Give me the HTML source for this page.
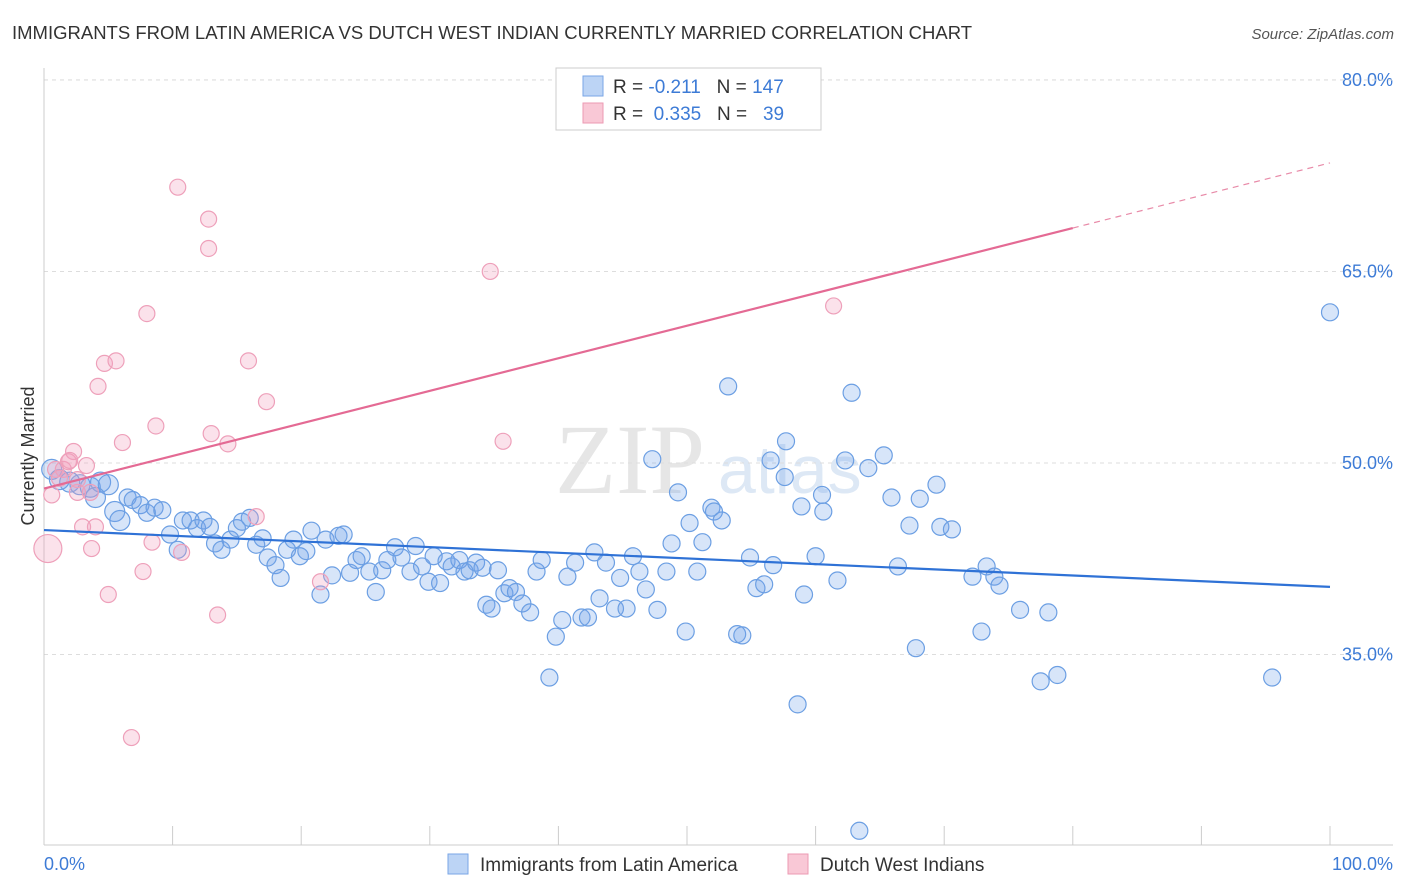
<!DOCTYPE html>
<html><head><meta charset="utf-8"><style>
body{margin:0;background:#fff;font-family:"Liberation Sans",sans-serif;}
svg{display:block}
</style></head><body>
<svg id="chart" width="1406" height="892">
<text x="12" y="39" font-size="18.5" fill="#333">IMMIGRANTS FROM LATIN AMERICA VS DUTCH WEST INDIAN CURRENTLY MARRIED CORRELATION CHART</text>
<text x="1394" y="39" font-size="15" fill="#555" font-style="italic" text-anchor="end">Source: ZipAtlas.com</text>
<text x="555" y="493" font-size="100" fill="#e6e6e6" font-family="Liberation Serif">ZIP</text>
<text x="718" y="493" font-size="68" fill="#dde8f5">atlas</text>
<text transform="translate(34,456) rotate(-90)" font-size="18" fill="#333" text-anchor="middle">Currently Married</text>
<g id="grid"></g><g id="marks"></g>
<g>
<rect x="556" y="68" width="265" height="62" fill="#fff" stroke="#ccc"/>
<rect x="583" y="76" width="20" height="20" fill="#bcd4f5" stroke="#7aa6e6"/>
<rect x="583" y="103" width="20" height="20" fill="#f9c8d6" stroke="#ec9ab3"/>
<text x="613" y="93" font-size="19" fill="#333" xml:space="preserve">R = <tspan fill="#3d7bd6">-0.211</tspan>   N = <tspan fill="#3d7bd6">147</tspan></text>
<text x="613" y="120" font-size="19" fill="#333" xml:space="preserve">R =  <tspan fill="#3d7bd6">0.335</tspan>   N =   <tspan fill="#3d7bd6">39</tspan></text>
</g>
<g>
<rect x="448" y="854" width="20" height="20" fill="#bcd4f5" stroke="#7aa6e6"/>
<text x="480" y="871" font-size="19" fill="#333">Immigrants from Latin America</text>
<rect x="788" y="854" width="20" height="20" fill="#f9c8d6" stroke="#ec9ab3"/>
<text x="820" y="871" font-size="19" fill="#333">Dutch West Indians</text>
</g>
<text x="44" y="870" font-size="18" fill="#3d7bd6">0.0%</text>
<text x="1393" y="870" font-size="18" fill="#3d7bd6" text-anchor="end">100.0%</text>
</svg>
<script>
const yTicks=[80,65,50,35];
const yTickLabels=["80.0%","65.0%","50.0%","35.0%"];
const xTicks=[0,10,20,30,40,50,60,70,80,90,100];
const blueX=[0.6,1.2,2.0,2.8,3.6,4.4,5.0,4.0,5.5,5.9,6.5,6.9,7.5,8.0,8.6,9.2,9.8,10.4,10.8,11.4,11.9,12.4,12.9,13.3,13.8,14.5,15.0,15.4,16.0,16.5,17.0,17.4,18.0,18.4,18.9,19.4,19.9,20.4,20.8,21.5,21.9,22.4,22.9,23.3,23.8,24.3,24.7,25.3,25.8,26.3,26.7,27.3,27.8,28.5,28.9,29.4,29.9,30.3,30.8,31.3,31.7,32.3,32.7,33.1,33.6,34.1,34.4,34.8,35.3,35.8,36.2,36.7,37.2,37.8,38.3,38.7,39.3,39.8,40.3,40.7,41.3,41.8,42.3,42.8,43.2,43.7,44.4,44.8,45.3,45.8,46.3,46.8,47.3,47.7,48.4,48.8,49.3,49.9,50.2,50.8,51.2,51.9,52.1,52.7,53.2,53.9,54.3,54.9,55.4,56.0,56.5,56.7,57.6,57.7,58.6,58.9,59.1,60.0,60.5,60.6,61.7,62.3,62.8,63.4,64.1,65.3,65.9,66.4,67.3,67.8,68.1,69.4,69.7,70.6,72.2,72.9,73.3,73.9,74.3,75.9,77.5,78.1,78.8,95.5,100];
const blueY=[49.5,48.7,48.5,48.3,48.1,48.5,48.3,47.3,46.2,45.5,47.3,47.1,46.7,46.1,46.5,46.3,44.4,43.2,45.5,45.5,44.9,45.5,45.0,43.7,43.2,44.0,44.9,45.4,45.7,43.6,44.1,42.6,42.0,41.0,43.2,44.0,42.7,43.1,44.7,39.7,44.0,41.2,44.3,44.4,41.4,42.4,42.7,41.5,39.9,41.6,42.4,43.4,42.6,41.5,43.5,41.9,40.7,42.7,40.6,42.3,41.9,42.4,41.5,41.6,42.2,41.8,38.9,38.6,41.6,39.8,40.2,39.9,39.0,38.3,41.5,42.4,33.2,36.4,37.7,41.1,42.2,37.9,37.9,43.0,39.4,42.2,38.6,41.0,38.6,42.7,41.5,40.1,50.3,38.5,41.5,43.7,47.7,36.8,45.3,41.5,43.8,46.5,46.2,45.5,56.0,36.6,36.5,42.6,40.2,40.5,50.2,42.0,48.9,51.7,31.1,46.6,39.7,42.7,47.5,46.2,40.8,50.2,55.5,21.2,49.6,50.6,47.3,41.9,45.1,35.5,47.2,48.3,45.0,44.8,41.1,36.8,41.9,41.1,40.4,38.5,32.9,38.3,33.4,33.2,61.8];
const pinkX=[0.3,0.6,0.9,1.5,1.9,2.3,2.6,3.0,3.6,3.7,4.0,4.2,4.7,5.0,5.6,6.1,6.8,7.7,8.0,8.4,8.7,10.4,10.7,12.8,12.8,13.0,13.5,14.3,15.9,16.5,17.3,21.5,34.7,35.7,61.4,2.6,3.3,1.2,2.0];
const pinkY=[43.3,47.5,49.5,49.5,50.1,50.9,47.7,45.0,47.7,43.3,45.0,56.0,57.8,39.7,58.0,51.6,28.5,41.5,61.7,43.8,52.9,71.6,43.0,69.1,66.8,52.3,38.1,51.5,58.0,45.8,54.8,40.7,65.0,51.7,62.3,48.7,49.8,48.8,50.2];
const blueLine=[44.75,40.3];
const pinkLine=[48.0,73.5];
const pinkSolidEnd=80;
const L=44,R=1330,Y50=463,PX=12.77;
const sx=v=>L+(R-L)*v/100;
const sy=v=>Y50-(v-50)*PX;
const NS="http://www.w3.org/2000/svg";
function mk(tag,attrs,parent){const e=document.createElementNS(NS,tag);for(const k in attrs)e.setAttribute(k,attrs[k]);parent.appendChild(e);return e;}
const gridG=document.getElementById('grid'),marksG=document.getElementById('marks');
yTicks.forEach((t,i)=>{
 const g=mk('line',{x1:L,x2:1393,y1:sy(t),y2:sy(t),stroke:'#ddd','stroke-dasharray':'4,4'},gridG);
 
 
 const tx=mk('text',{x:1393,y:sy(t)+6,'font-size':18,fill:'#3d7bd6','text-anchor':'end'},gridG);
 tx.textContent=yTickLabels[i];
 
 
});
const topLine=mk('line',{x1:L,x2:1393,y1:80,y2:80,stroke:'#ddd','stroke-dasharray':'4,4'},gridG);


const ax=mk('line',{x1:L,x2:L,y1:68,y2:845,stroke:'#ccc'},gridG);


const xa=mk('line',{x1:L,x2:1393,y1:845,y2:845,stroke:'#ccc'},gridG);


xTicks.forEach(t=>{
 const k=mk('line',{x1:sx(t),x2:sx(t),y1:826,y2:845,stroke:'#ccc'},gridG);
 
 
});
blueX.forEach((x,i)=>{
 const c=mk('circle',{cx:sx(x),cy:sy(blueY[i]),r:x<6?10:8.5,fill:'rgba(110,160,232,0.28)',stroke:'#6c9fe3','stroke-width':1.2},marksG);
 
 
});
pinkX.forEach((x,i)=>{
 const c=mk('circle',{cx:sx(x),cy:sy(pinkY[i]),r:i===0?14:8,fill:'rgba(242,160,190,0.3)',stroke:'#eea0ba','stroke-width':1.2},marksG);
 
 
});
const bl=mk('line',{x1:sx(0),y1:sy(blueLine[0]),x2:sx(100),y2:sy(blueLine[1]),stroke:'#2f72d6','stroke-width':2.2},marksG);


const pm=pinkLine[0]+(pinkLine[1]-pinkLine[0])*pinkSolidEnd/100;
const pl=mk('line',{x1:sx(0),y1:sy(pinkLine[0]),x2:sx(pinkSolidEnd),y2:sy(pm),stroke:'#e46a94','stroke-width':2.2},marksG);


const pd=mk('line',{x1:sx(pinkSolidEnd),y1:sy(pm),x2:sx(100),y2:sy(pinkLine[1]),stroke:'#e88aa8','stroke-width':1.2,'stroke-dasharray':'6,5'},marksG);


</script>
</body></html>
